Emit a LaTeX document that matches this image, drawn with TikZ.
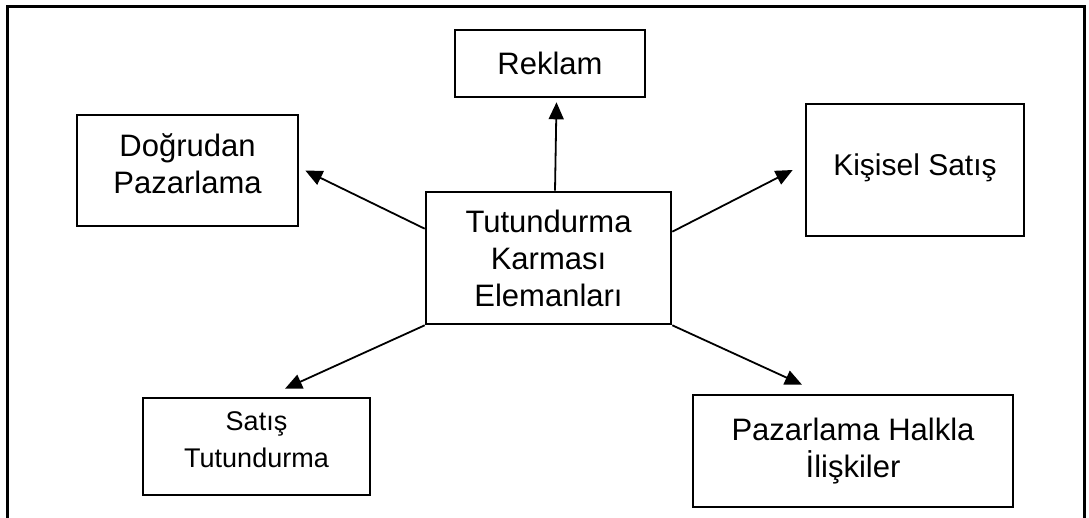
\documentclass[tikz,border=0pt]{standalone}
\usepackage{fontspec}
\setmainfont{Liberation Sans}
\usetikzlibrary{arrows.meta}
\begin{document}
\begin{tikzpicture}[x=1pt,y=-1pt,
  box/.style={draw, line width=2.6pt, rectangle, inner sep=0pt},
  txt/.style={align=center, font=\fontsize{31}{37}\selectfont},
  link/.style={line width=1.8pt, -{Triangle[length=17pt,width=15pt]}}]
\useasboundingbox (0,0) rectangle (1089,518);
% open frame around the scheme
\draw[line width=3pt] (7.5,530) -- (7.5,6.5) -- (1084.5,6.5) -- (1084.5,530);

% boxes, each with its caption set as a centred label
\node[box, minimum width=190pt, minimum height=67pt,
  label={[txt]center:Reklam}] (rek) at (550,63.5) {};
\node[box, minimum width=221pt, minimum height=111pt,
  label={[txt, yshift=7pt]center:Doğrudan\\Pazarlama}] (dog) at (187.5,170.5) {};
\node[box, minimum width=218pt, minimum height=132pt,
  label={[txt, font=\fontsize{30}{36}\selectfont, yshift=2pt]center:Kişisel Satış}] (kis) at (915,170) {};
\node[box, minimum width=245pt, minimum height=132pt,
  label={[txt]center:Tutundurma\\Karması\\Elemanları}] (tut) at (548.5,258) {};
\node[box, minimum width=227pt, minimum height=97pt,
  label={[txt, font=\fontsize{27}{37}\selectfont, yshift=7pt]center:Satış\\Tutundurma}] (sat) at (256.5,446.5) {};
\node[box, minimum width=320pt, minimum height=112pt,
  label={[txt]center:Pazarlama Halkla\\İlişkiler}] (pha) at (853,451) {};

% connector ends
\coordinate (s-rek) at ([shift={(6.5,0)}]tut.north);
\coordinate (e-rek) at ([shift={(6.5,4)}]rek.south);
\coordinate (s-dog) at ([shift={(0,38)}]tut.north west);
\coordinate (e-dog) at ([shift={(6,0)}]dog.east);
\coordinate (s-kis) at ([shift={(0,41)}]tut.north east);
\coordinate (e-kis) at ([shift={(-12,0)}]kis.west);
\coordinate (e-sat) at ([shift={(28.5,-8)}]sat.north);
\coordinate (e-pha) at ([shift={(-51,-9)}]pha.north);

% arrows
\draw[link] (s-rek) -- (e-rek);
\draw[link] (s-dog) -- (e-dog);
\draw[link] (s-kis) -- (e-kis);
\draw[link] (tut.south west) -- (e-sat);
\draw[link] (tut.south east) -- (e-pha);
\end{tikzpicture}
\end{document}
